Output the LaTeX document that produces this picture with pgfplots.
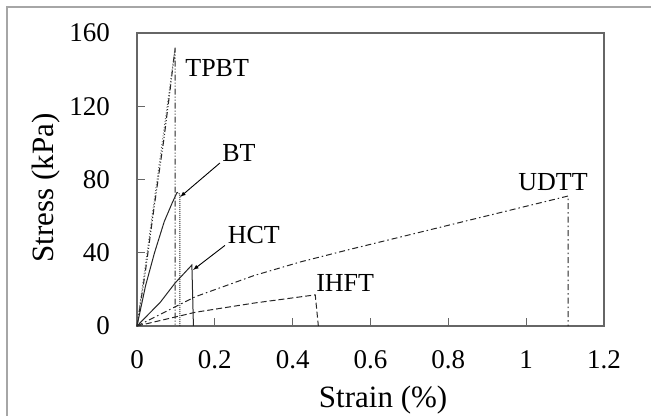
\documentclass[border=0pt]{standalone}
\usepackage{fontspec}
\setmainfont{Liberation Serif}
\usepackage{pgfplots}
\pgfplotsset{compat=1.18}
\begin{document}
\begin{tikzpicture}[x=1pt,y=1pt]
\useasboundingbox (0,0) rectangle (651,416);
\draw[gray!70, line width=1.2pt] (7,0) -- (7,409) -- (651,409);
\begin{axis}[
  scale only axis, width=467pt, height=293pt,
  anchor=south west, at={(137pt,90pt)},
  xmin=0, xmax=1.2, ymin=0, ymax=160,
  xtick={0,0.2,...,1.2}, ytick={0,40,...,160},
  xticklabels={0,0.2,0.4,0.6,0.8,1,1.2},
  tick align=inside, major tick length=8pt,
  xtick pos=bottom, ytick pos=left,
  axis line style={gray!80!black, line width=1.1pt},
  tick style={gray!80!black, line width=1pt},
  /pgf/number format/assume math mode=true,
  tick label style={font=\fontsize{27}{31}\selectfont},
  xticklabel style={inner sep=0pt, anchor=north, yshift=-24pt},
  yticklabel style={inner sep=0pt, anchor=east, xshift=-27pt},
  xlabel={Strain (\%)}, ylabel={Stress (kPa)},
  label style={font=\fontsize{31}{35}\selectfont},
  xlabel style={at={(axis description cs:0.527,-0.253)}, anchor=center},
  ylabel style={at={(axis description cs:-0.195,0.471)}, anchor=center, rotate=0},
  clip=false,
]
% TPBT
\addplot[black!85, line width=1.1pt, dash pattern=on 6pt off 2pt on 1pt off 2pt on 1pt off 2pt]
  coordinates {(0,0)(0.021,29)(0.044,65)(0.069,102)(0.085,129)(0.098,152)(0.098,0)};
\addplot[black!65, line width=0.9pt, dotted] coordinates {(0,0)(0.098,152)};
% BT
\addplot[black!85, line width=1pt] coordinates {(0,0)(0.022,22)(0.045,40)(0.07,57)(0.09,67)(0.103,73)};
\addplot[black!85, line width=1pt, densely dotted] coordinates {(0.103,73)(0.11,72)(0.11,0)};
% HCT
\addplot[black!85, line width=1pt] coordinates {(0,0)(0.06,13)(0.098,23.5)(0.141,33.3)(0.145,0)};
% IHFT
\addplot[black!85, line width=1pt, dash pattern=on 6pt off 3pt] coordinates {(0,0)(0.15,7.5)(0.3,12.5)(0.458,17)(0.466,0)};
% UDTT
\addplot[black!85, line width=1pt, dash pattern=on 6pt off 3pt on 1.5pt off 3pt] coordinates {(0,0)(0.15,16)(0.3,27.5)(0.42,35)(0.55,42)(0.8,55)(1.108,71)(1.108,0)};
% labels
\node[font=\fontsize{26}{30}\selectfont] at (axis cs:0.206,141) {TPBT};
\node[font=\fontsize{26}{30}\selectfont] at (axis cs:0.262,94.5) {BT};
\node[font=\fontsize{26}{30}\selectfont] at (axis cs:0.30,49.7) {HCT};
\node[font=\fontsize{26}{30}\selectfont] at (axis cs:0.535,23.5) {IHFT};
\node[font=\fontsize{26}{30}\selectfont] at (axis cs:1.069,78.7) {UDTT};
\draw[-latex, line width=0.9pt] (axis cs:0.213,89) -- (axis cs:0.111,70.5);
\draw[-latex, line width=0.9pt] (axis cs:0.226,44) -- (axis cs:0.144,30.6);
\end{axis}
\end{tikzpicture}
\end{document}
